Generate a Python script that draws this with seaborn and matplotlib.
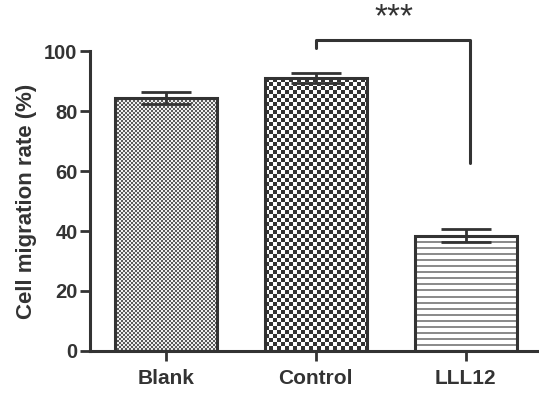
import matplotlib
matplotlib.use("Agg")
import matplotlib.pyplot as plt
import seaborn as sns
import numpy as np
import pandas as pd

groups = ["Blank", "Control", "LLL12"]
migration = [84.3, 91.0, 38.4]
sem = [1.9, 1.8, 2.2]
y_ticks = [0, 20, 40, 60, 80, 100]
stars = "***"

sns.set_theme(style="ticks")
plt.rcParams["font.family"] = ["Liberation Sans", "DejaVu Sans"]

ink = "#333333"

df = pd.DataFrame({"group": groups, "rate": migration})

fig = plt.figure(figsize=(5.39, 3.93), dpi=100)
ax = fig.add_axes([0.167, 0.107, 0.833, 0.763])

sns.barplot(data=df, x="group", y="rate", errorbar=None, width=0.68,
            color="white", edgecolor=ink, linewidth=2.2, ax=ax, zorder=2)

ax.set_xlim(-0.507, 2.49)
ax.set_ylim(0, 100)


def pattern(kind, w, h):
    yy, xx = np.mgrid[0:h, 0:w]
    img = np.ones((h, w, 3))
    if kind == "fine":
        mask = ((xx // 2 + yy // 2) % 2) == 0
        img[mask] = np.array([0.36, 0.36, 0.36])
        img[~mask] = np.array([0.94, 0.94, 0.94])
    elif kind == "checker":
        mask = ((xx // 4 + yy // 4) % 2) == 0
        img[mask] = np.array([0.2, 0.2, 0.2])
    else:
        mask = (yy % 6) < 2
        img[mask] = np.array([0.55, 0.55, 0.55])
    return img


kinds = ["fine", "checker", "lines"]
for patch, kind in zip(ax.patches, kinds):
    patch.set_facecolor("none")
    bb = patch.get_window_extent()
    w = max(int(round(bb.width)), 1)
    h = max(int(round(bb.height)), 1)
    x0 = patch.get_x()
    x1 = x0 + patch.get_width()
    im = ax.imshow(pattern(kind, w, h), extent=(x0, x1, 0, patch.get_height()),
                   origin="upper", interpolation="nearest", aspect="auto", zorder=1)
    im.set_clip_path(patch)

ax.set_xlim(-0.507, 2.49)
ax.set_ylim(0, 100)

ax.errorbar(range(len(groups)), migration, yerr=sem, fmt="none", ecolor=ink,
            elinewidth=2, capsize=18, capthick=2, zorder=3)

# significance bracket Control vs LLL12
bx = [1, 1, 2.03, 2.03]
by = [101, 103.7, 103.7, 62.7]
ax.plot(bx, by, color=ink, lw=2.2, clip_on=False, solid_capstyle="round",
        solid_joinstyle="round", zorder=4)
ax.text(1.52, 116.3, stars, ha="center", va="top", fontsize=24, color=ink)

ax.set_yticks(y_ticks)
ax.set_xlabel("")
ax.set_ylabel("Cell migration rate (%)", fontsize=16, fontweight="bold", color=ink, labelpad=5)
ax.tick_params(axis="both", colors=ink, width=2, length=7)
ax.tick_params(axis="x", labelsize=15, pad=6)
ax.tick_params(axis="y", labelsize=14.5, pad=2)
for lab in ax.get_xticklabels() + ax.get_yticklabels():
    lab.set_fontweight("bold")
    lab.set_color(ink)

for side in ["left", "bottom"]:
    ax.spines[side].set_linewidth(2.2)
    ax.spines[side].set_color(ink)
sns.despine(ax=ax)

fig.savefig("out.png", dpi=100)
